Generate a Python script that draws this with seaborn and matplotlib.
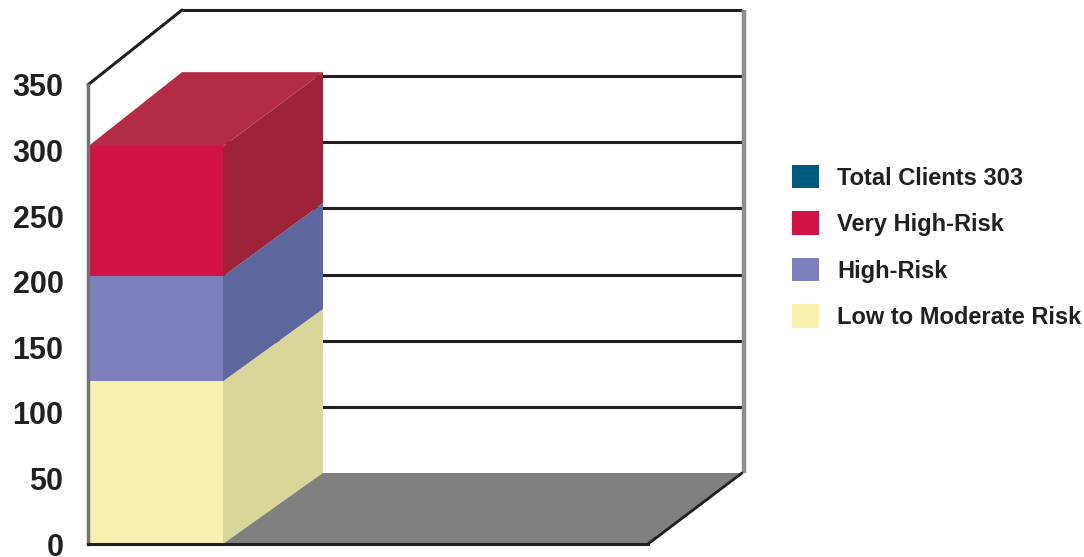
import numpy as np
import pandas as pd
import matplotlib
matplotlib.use("Agg")
import matplotlib.pyplot as plt
from matplotlib import font_manager as fm
from matplotlib.font_manager import FontProperties
from matplotlib.patches import Patch
import seaborn as sns

# ---------------- data ----------------
bar_category = ["Clients"]
segment_labels = ["Low to Moderate Risk", "High-Risk", "Very High-Risk"]
segment_values = [124, 80, 99]
total_label = "Total Clients 303"
y_ticks = [0, 50, 100, 150, 200, 250, 300, 350]
x_slots = [0, 1, 2, 3, 4]

# ---------------- style ----------------
front_colors = ["#F7F0AE", "#7D80BD", "#D21245"]
side_colors = ["#D9D69A", "#5C679D", "#9E2338"]
top_color = "#B32B44"
total_color = "#005A80"
floor_color = "#808080"
ink = "#231F20"
axis_gray = "#747474"

sns.set_style("white")
names = {f.name for f in fm.fontManager.ttflist}
narrow = "Liberation Sans Narrow" in names
legend_family = ["Liberation Sans Narrow", "DejaVu Sans"] if narrow else ["Liberation Sans", "DejaVu Sans"]
legend_size = 20 if narrow else 17
tick_family = ["Liberation Sans", "DejaVu Sans"]
plt.rcParams["font.family"] = ["Liberation Sans", "DejaVu Sans"]

# geometry (pixel based, converted to data units)
W_PX, H_PX = 1084, 557
PX = 140.0           # px per x unit
PY = 1.312           # px per y unit
W = 135 / PX         # bar front width
X0 = -W / 2          # front-left corner (bar is centred at category 0)
DX = 94 / PX         # depth offset in x
BR = 235 / PX        # bar back-right offset
XR = 654 / PX        # back wall right offset
YTOP = 534 / PY
DY0 = 71 / PY
BK = (YTOP - DY0) / y_ticks[-1]


def back(v):
    return DY0 + v * BK


fig = plt.figure(figsize=(W_PX / 100, H_PX / 100), dpi=100)
ax = fig.add_axes([88 / W_PX, 13 / H_PX, 654 / W_PX, 534 / H_PX])
ax.set_facecolor("white")

# floor
ax.fill([X0, X0 + 4, X0 + XR, X0 + DX], [0, 0, back(0), back(0)],
        color=floor_color, lw=0, zorder=0.5)

# back wall gridlines
for v in y_ticks[1:]:
    ax.plot([X0 + DX, X0 + XR], [back(v), back(v)], color=ink, lw=2.2,
            solid_capstyle="butt", zorder=0.6, clip_on=False)
# back wall right edge
ax.plot([X0 + XR + 1.5 / PX] * 2, [back(0), back(y_ticks[-1])], color="#8E8E8E",
        lw=3.2, solid_capstyle="butt", zorder=0.7, clip_on=False)
# slanted frame edges
ax.plot([X0, X0 + DX], [y_ticks[-1], back(y_ticks[-1])], color=ink, lw=2.2,
        zorder=0.7, clip_on=False)
ax.plot([X0 + 4, X0 + XR], [0, back(0)], color=ink, lw=2.0, zorder=0.7, clip_on=False)

# stacked bar (front faces) via seaborn
cum = np.cumsum(segment_values)
lows = np.concatenate([[0], cum[:-1]])
for i in reversed(range(len(segment_values))):
    sns.barplot(x=bar_category, y=[cum[i]], color=front_colors[i], width=W,
                saturation=1, linewidth=0, errorbar=None, ax=ax, zorder=2)

# side faces and top
for i in range(len(segment_values)):
    lo, hi = lows[i], cum[i]
    ax.fill([X0 + W, X0 + BR, X0 + BR, X0 + W], [lo, back(lo), back(hi), hi],
            color=side_colors[i], lw=0, zorder=1.5)
T = cum[-1]
ax.fill([X0, X0 + W, X0 + BR, X0 + DX], [T, T, back(T), back(T)],
        color=top_color, lw=0, zorder=1.5)

# axes
ax.set_xlim(X0, X0 + XR)
ax.set_ylim(0, YTOP)
ax.set_xlabel("")
ax.set_ylabel("")
for s in ["top", "right"]:
    ax.spines[s].set_visible(False)
ax.spines["left"].set_bounds(0, y_ticks[-1])
ax.spines["left"].set_color(axis_gray)
ax.spines["left"].set_linewidth(2.5)
ax.spines["bottom"].set_bounds(X0, X0 + 4)
ax.spines["bottom"].set_color(ink)
ax.spines["bottom"].set_linewidth(2.2)

ax.set_yticks(y_ticks)
ax.set_yticklabels([str(t) for t in y_ticks])
ax.tick_params(axis="y", length=8.6, width=2.2, color=ink, pad=9, labelsize=22,
               labelcolor=ink)
for lab in ax.get_yticklabels():
    lab.set_fontfamily(tick_family)
    lab.set_fontweight("bold")
ax.set_xticks([X0 + s for s in x_slots])
ax.set_xticklabels([""] * len(x_slots))
ax.tick_params(axis="x", length=8, width=2.2, color=ink, direction="out")
xt = ax.xaxis.get_major_ticks()
for idx in [0, 1, 3]:
    xt[idx].tick1line.set_color(axis_gray)

# legend
handles = [Patch(facecolor=total_color, lw=0),
           Patch(facecolor=front_colors[2], lw=0),
           Patch(facecolor=front_colors[1], lw=0),
           Patch(facecolor=front_colors[0], lw=0)]
labels = [total_label, segment_labels[2], segment_labels[1], segment_labels[0]]
F = legend_size
hs = 19.4 / F
leg = fig.legend(handles, labels, loc="center left",
                 bbox_to_anchor=(792 / W_PX, 1 - 247 / H_PX), frameon=False,
                 borderpad=0, borderaxespad=0, handlelength=hs, handleheight=hs,
                 handletextpad=13 / F, labelspacing=0.92,
                 prop=FontProperties(family=legend_family, weight="bold", size=F))
for t in leg.get_texts():
    t.set_color(ink)

fig.savefig("out.png", dpi=100)
